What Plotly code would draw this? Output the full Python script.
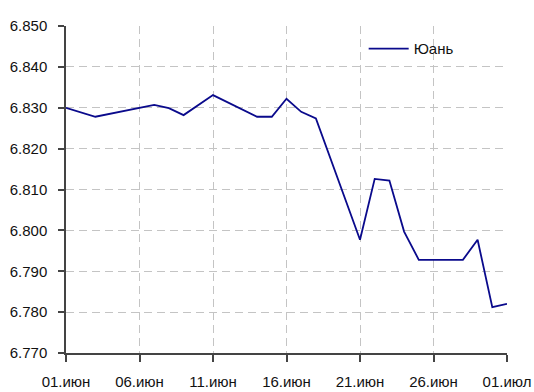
import plotly.graph_objects as go

# Yuan exchange rate, June 2010
dates = [
    "2010-06-01", "2010-06-03", "2010-06-07", "2010-06-08", "2010-06-09",
    "2010-06-11", "2010-06-14", "2010-06-15", "2010-06-16", "2010-06-17",
    "2010-06-18", "2010-06-21", "2010-06-22", "2010-06-23", "2010-06-24",
    "2010-06-25", "2010-06-28", "2010-06-29", "2010-06-30", "2010-07-01",
]
yuan = [
    6.8300, 6.8278, 6.8307, 6.8299, 6.8282,
    6.8331, 6.8278, 6.8278, 6.8322, 6.8290,
    6.8274, 6.7977, 6.8126, 6.8122, 6.7997,
    6.7928, 6.7928, 6.7977, 6.7812, 6.7820,
]

tick_dates = ["2010-06-01", "2010-06-06", "2010-06-11", "2010-06-16",
              "2010-06-21", "2010-06-26", "2010-07-01"]
tick_labels = ["01.июн", "06.июн", "11.июн", "16.июн", "21.июн", "26.июн", "01.июл"]

font = dict(family="Liberation Sans, Arial, sans-serif", size=15, color="#111111")

fig = go.Figure()
fig.add_trace(go.Scatter(
    x=dates, y=yuan, mode="lines", name="Юань",
    line=dict(color="#0a0a8c", width=1.8),
))

fig.update_layout(
    width=534, height=392,
    margin=dict(l=66, r=27, t=26, b=39),
    paper_bgcolor="white", plot_bgcolor="white",
    font=font,
    showlegend=True,
    legend=dict(
        x=0.675, y=0.93, xanchor="left", yanchor="middle",
        bgcolor="rgba(0,0,0,0)", font=font,
        itemwidth=40,
    ),
)

fig.update_xaxes(
    type="date", automargin=False,
    range=["2010-06-01", "2010-07-01"],
    tickmode="array", tickvals=tick_dates, ticktext=tick_labels,
    showgrid=True, gridcolor="#c4c4c4", griddash="8px,5px", gridwidth=1,
    showline=True, linecolor="#444444", linewidth=1.5,
    ticks="outside", ticklen=7, tickcolor="#444444", tickwidth=1.5,
    ticklabelstandoff=7,
    zeroline=False,
)
fig.update_yaxes(
    range=[6.77, 6.85], automargin=False,
    dtick=0.01, tick0=6.77, tickformat=".3f",
    showgrid=True, gridcolor="#c4c4c4", griddash="8px,5px", gridwidth=1,
    showline=True, linecolor="#444444", linewidth=1.5,
    ticks="outside", ticklen=6, tickcolor="#444444", tickwidth=1.5,
    ticklabelstandoff=8,
    zeroline=False,
)

fig.write_html("out.html")
